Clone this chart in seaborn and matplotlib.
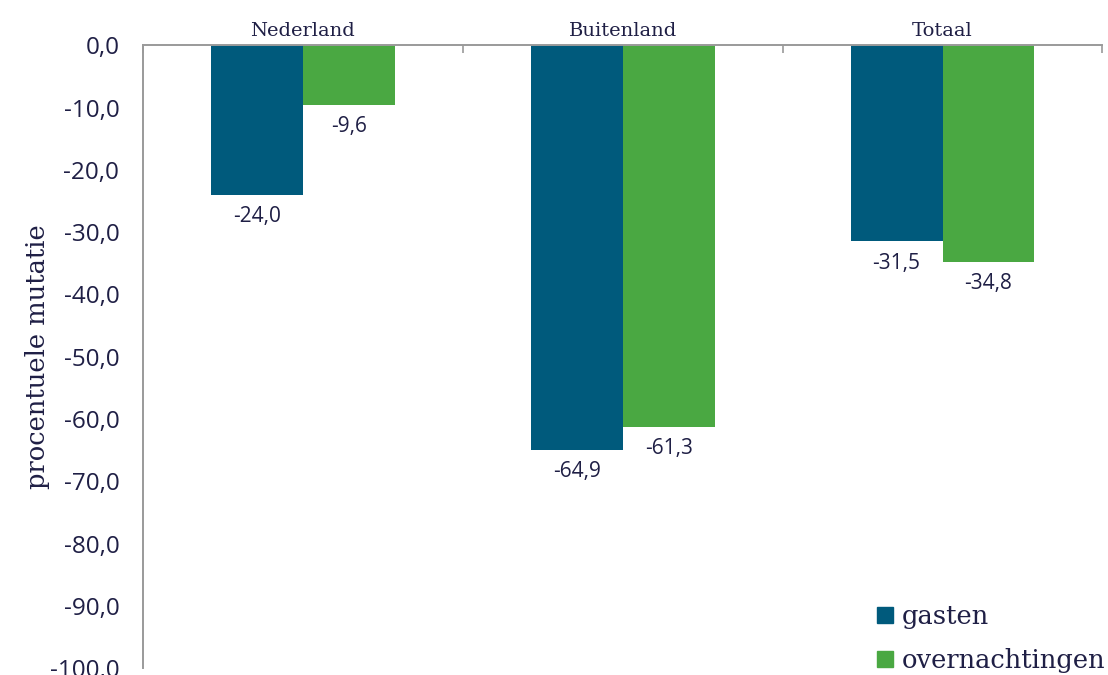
import matplotlib.pyplot as plt
import matplotlib.ticker as mticker
import seaborn as sns
import pandas as pd
import numpy as np

# percentage change per origin of guests
categories = ['Nederland', 'Buitenland', 'Totaal']
series = ['gasten', 'overnachtingen']
gasten = [-24.0, -64.9, -31.5]
overnachtingen = [-9.6, -61.3, -34.8]

colors = {'gasten': '#005a7c', 'overnachtingen': '#4aa842'}
text_color = '#1f1f45'
spine_color = '#9a9a9a'

df = pd.DataFrame({
    'categorie': categories * 2,
    'reeks': ['gasten'] * 3 + ['overnachtingen'] * 3,
    'waarde': gasten + overnachtingen,
})

sns.set_style('white')
plt.rcParams['font.family'] = ['DejaVu Serif']
plt.rcParams['text.color'] = text_color

fig, ax = plt.subplots(figsize=(11.08, 6.75), dpi=100)
fig.subplots_adjust(left=0.129, right=0.995, top=0.933, bottom=0.01)

sns.barplot(data=df, x='categorie', y='waarde', hue='reeks', order=categories,
            hue_order=series, palette=colors, width=0.575, saturation=1,
            linewidth=0, ax=ax)

ax.set_ylim(-100, 0)
ax.set_xlim(-0.5, 2.5)
ax.yaxis.set_major_locator(mticker.MultipleLocator(10))
ax.yaxis.set_major_formatter(mticker.FuncFormatter(lambda v, p: f'{v:.1f}'.replace('.', ',')))

# x axis on top at 0
ax.xaxis.tick_top()
ax.xaxis.set_label_position('top')
ax.set_xlabel('')
ax.set_ylabel('procentuele mutatie', fontsize=18.5, color=text_color, labelpad=0)
ax.tick_params(axis='x', which='major', length=0, pad=4, labelsize=14, labelcolor=text_color)
ax.xaxis.set_minor_locator(mticker.FixedLocator([-0.5, 0.5, 1.5, 2.5]))
ax.tick_params(axis='x', which='minor', direction='in', length=6, color=spine_color, width=1.2)
ax.tick_params(axis='y', which='major', direction='out', length=6, color=spine_color, width=1.2,
               labelsize=17.5, labelcolor=text_color, pad=11)
for lbl in ax.get_yticklabels():
    lbl.set_fontfamily('Open Sans')

for side in ['right', 'bottom']:
    ax.spines[side].set_visible(False)
for side in ['left', 'top']:
    ax.spines[side].set_color(spine_color)
    ax.spines[side].set_linewidth(1.4)

for cont in ax.containers:
    ax.bar_label(cont, labels=[f'{v:.1f}'.replace('.', ',') for v in cont.datavalues],
                 padding=8, fontsize=15, color=text_color, family='Open Sans')

handles = [plt.Line2D([], [], marker='s', linestyle='', markersize=12,
                      color=colors[s]) for s in series]
ax.legend(handles, series, loc='lower right', bbox_to_anchor=(1.027, -0.045), frameon=False,
          fontsize=18.5, handletextpad=0.15, labelspacing=0.75, handlelength=1.0,
          labelcolor=text_color)

fig.savefig('out.png', dpi=100)
